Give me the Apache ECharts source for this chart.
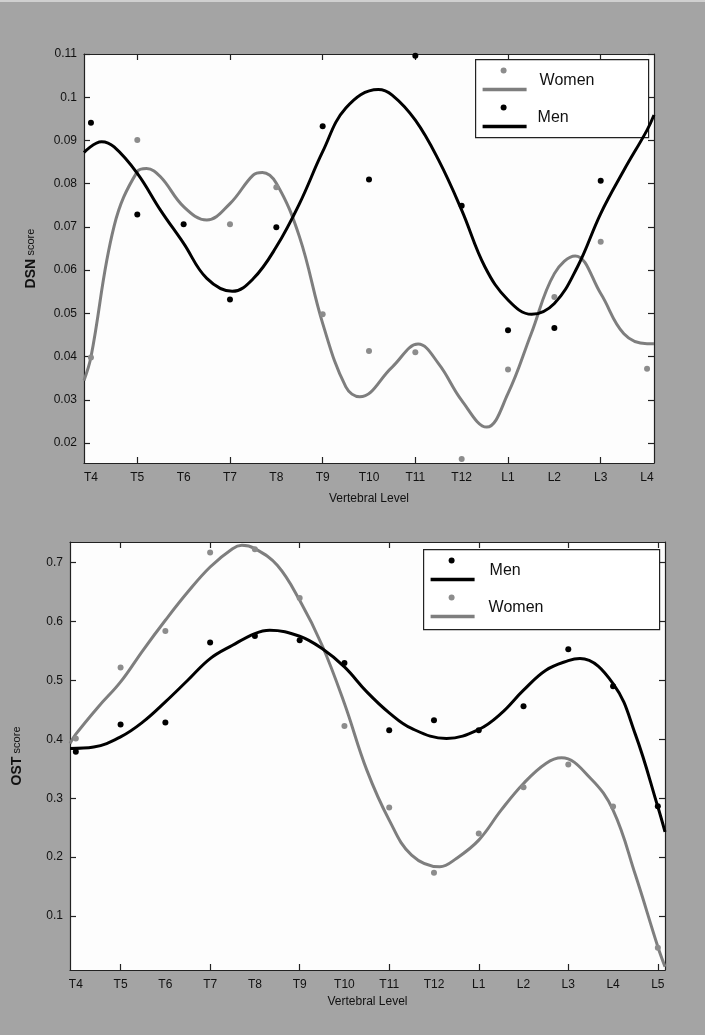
<!DOCTYPE html>
<html>
<head>
<meta charset="utf-8">
<script src="https://cdn.jsdelivr.net/npm/echarts@6/dist/echarts.min.js"></script>
<style>
  html, body { margin: 0; padding: 0; background: #a4a4a4; }
  #chart { width: 705px; height: 1035px; }
</style>
</head>
<body>
<div id="chart"></div>
<script>
// --- top panel: DSN score ---
const dsnLevels = ['T4', 'T5', 'T6', 'T7', 'T8', 'T9', 'T10', 'T11', 'T12', 'L1', 'L2', 'L3', 'L4']
const dsnTicks = [0.02, 0.03, 0.04, 0.05, 0.06, 0.07, 0.08, 0.09, 0.1, 0.11]
const dsnWomenPts = [0.0398, 0.0901, null, 0.0706, 0.0792, 0.0498, 0.0413, 0.0410, 0.0163, 0.0370, 0.0538, 0.0666, 0.0372]
const dsnMenPts = [0.0941, 0.0729, 0.0706, 0.0532, 0.0699, 0.0933, 0.0810, 0.1096, 0.0749, 0.0461, 0.0466, 0.0807, null]
const dsnWomenFitX = [-0.15, 0, 0.5, 1, 1.2, 1.5, 2, 2.5, 3, 3.5, 3.7, 4, 4.5, 5, 5.5, 5.8, 6.5, 7.06, 7.5, 8, 8.54, 9, 9.5, 10, 10.45, 11, 11.5, 12, 12.15]
const dsnWomenFit = [0.0345, 0.0399, 0.0702, 0.0828, 0.0835, 0.0816, 0.0747, 0.0716, 0.0754, 0.0820, 0.0826, 0.0801, 0.0677, 0.0477, 0.0330, 0.0307, 0.0376, 0.0429, 0.0384, 0.0299, 0.0237, 0.0315, 0.0453, 0.0592, 0.0633, 0.0546, 0.0453, 0.0430, 0.0430]
const dsnMenFitX = [-0.15, 0.23, 0.5, 1, 1.5, 2, 2.5, 3.05, 3.5, 4, 4.5, 5, 5.5, 6.2, 6.5, 7, 7.5, 8, 8.5, 9, 9.51, 10, 10.5, 11, 11.5, 12, 12.15]
const dsnMenFit = [0.0872, 0.0897, 0.0885, 0.0824, 0.0739, 0.0662, 0.0581, 0.0551, 0.0580, 0.0654, 0.0754, 0.0874, 0.0975, 0.1018, 0.1005, 0.0947, 0.0855, 0.0739, 0.0608, 0.0531, 0.0498, 0.0523, 0.0608, 0.0731, 0.0831, 0.0924, 0.0959]

// --- bottom panel: OST score ---
const ostLevels = ['T4', 'T5', 'T6', 'T7', 'T8', 'T9', 'T10', 'T11', 'T12', 'L1', 'L2', 'L3', 'L4', 'L5']
const ostTicks = [0.1, 0.2, 0.3, 0.4, 0.5, 0.6, 0.7]
const ostMenPts = [0.379, 0.425, 0.4286, 0.5643, 0.5755, 0.5682, 0.5297, 0.4155, 0.4325, 0.4155, 0.4562, 0.5529, 0.4902, 0.2866]
const ostWomenPts = [0.4014, 0.5219, 0.584, 0.717, 0.7226, 0.64, 0.4228, 0.2844, 0.1735, 0.2403, 0.3188, 0.3573, 0.2861, 0.0463]
const ostMenFitX = [-0.13, 0.4, 1, 1.5, 2, 2.5, 3, 3.5, 4, 4.33, 5, 5.5, 6, 6.5, 7, 7.5, 8.28, 9, 9.5, 10, 10.5, 11, 11.26, 12, 12.5, 13, 13.16]
const ostMenFit = [0.3845, 0.387, 0.4042, 0.4296, 0.4636, 0.5003, 0.537, 0.5597, 0.5796, 0.5852, 0.575, 0.5541, 0.5229, 0.4805, 0.4449, 0.4184, 0.4014, 0.4167, 0.4439, 0.4834, 0.5173, 0.5335, 0.5372, 0.4947, 0.408, 0.2855, 0.243]
const ostWomenFitX = [-0.13, 0, 0.5, 1, 1.5, 2, 2.5, 3, 3.5, 3.71, 4, 4.5, 5, 5.5, 6, 6.5, 7, 7.5, 8.13, 8.5, 9, 9.5, 10, 10.5, 10.85, 11.5, 12, 12.5, 13, 13.16]
const ostWomenFit = [0.393, 0.4087, 0.455, 0.4975, 0.5512, 0.6021, 0.65, 0.6926, 0.7237, 0.7293, 0.7237, 0.6954, 0.636, 0.5597, 0.4608, 0.3477, 0.2629, 0.2035, 0.1836, 0.1978, 0.2289, 0.2798, 0.3251, 0.359, 0.3686, 0.3336, 0.2798, 0.1696, 0.0479, 0.014]

const GRAY = '#7e7e7e'
const DOT_GRAY = '#8c8c8c'
const FONT = 'Liberation Sans, Arial, sans-serif'

const pairs = (xs, ys) => xs.map((x, i) => [x, ys[i]])
const pts = ys => ys.map((y, i) => [i, y]).filter(p => p[1] != null)
const odd = n => new Array(n).fill(0).map((v, i) => i).filter(i => i % 2 === 1)
const all = n => new Array(n).fill(0).map((v, i) => i)

const lineStyle = { color: '#222', width: 1.2 }

function xAxes (grid, min, max, levels, gap) {
  const n = levels.length
  const base = {
    gridIndex: grid, type: 'value', min, max,
    splitLine: { show: false },
    axisLine: { show: true, onZero: false, lineStyle },
    axisTick: { show: true, inside: true, length: 6, customValues: odd(n), lineStyle }
  }
  return [
    Object.assign({}, base, {
      position: 'bottom',
      name: 'Vertebral Level', nameLocation: 'middle', nameGap: gap,
      nameTextStyle: { fontFamily: FONT, fontSize: 12, color: '#111' },
      axisLabel: {
        customValues: all(n), margin: 9,
        fontFamily: FONT, fontSize: 12, color: '#111',
        formatter: v => levels[Math.round(v)]
      }
    }),
    Object.assign({}, base, { position: 'top', axisLabel: { show: false } })
  ]
}

function yAxes (grid, min, max, ticks, name) {
  const base = {
    gridIndex: grid, type: 'value', min, max,
    splitLine: { show: false },
    axisLine: { show: true, onZero: false, lineStyle },
    axisTick: { show: true, inside: true, length: 6, customValues: ticks, lineStyle }
  }
  return [
    Object.assign({}, base, {
      position: 'left',
      name: name, nameLocation: 'middle', nameGap: 46, nameRotate: 90,
      nameTextStyle: {
        fontFamily: FONT, color: '#111',
        rich: {
          a: { fontFamily: FONT, fontSize: 14, fontWeight: 'bold', color: '#111' },
          b: { fontFamily: FONT, fontSize: 11, color: '#111' }
        }
      },
      axisLabel: {
        customValues: ticks, margin: 7,
        fontFamily: FONT, fontSize: 12, color: '#111',
        formatter: v => String(+v.toFixed(2))
      }
    }),
    Object.assign({}, base, { position: 'right', axisLabel: { show: false } })
  ]
}

function fitLine (name, data, color, x, y) {
  return {
    name, type: 'line', xAxisIndex: x, yAxisIndex: y,
    data, smooth: 0.4, showSymbol: false, clip: true,
    lineStyle: { color, width: 3 }, silent: true, z: 3
  }
}

function dots (name, data, color, x, y) {
  return {
    name, type: 'scatter', xAxisIndex: x, yAxisIndex: y,
    data, symbolSize: 6, itemStyle: { color, opacity: 1 }, silent: true, z: 4
  }
}

// legend drawn as a boxed key: dot above a line for each group
function legendBox (left, top, w, h, items) {
  const children = [{
    type: 'rect', shape: { x: 0, y: 0, width: w, height: h },
    style: { fill: '#fff', stroke: '#222', lineWidth: 1.2 }
  }]
  items.forEach((it, i) => {
    const y0 = 11 + i * 37
    children.push({ type: 'circle', shape: { cx: 28, cy: y0, r: 3 }, style: { fill: it.dot } })
    children.push({ type: 'line', shape: { x1: 7, y1: y0 + 19, x2: 51, y2: y0 + 19 }, style: { stroke: it.color, lineWidth: 3.5 } })
    children.push({ type: 'text', x: it.tx, y: y0 + 10, style: { text: it.label, fontFamily: FONT, fontSize: 16, fill: '#111', verticalAlign: 'middle' } })
  })
  return { type: 'group', left, top, children, z: 100 }
}

const chart = echarts.init(document.getElementById('chart'), null, { renderer: 'canvas' })

chart.setOption({
  backgroundColor: '#a4a4a4',
  animation: false,
  grid: [
    { left: 84, top: 54, width: 570, height: 409, show: true, backgroundColor: '#fdfdfd', borderWidth: 0 },
    { left: 70, top: 542, width: 595, height: 428, show: true, backgroundColor: '#fdfdfd', borderWidth: 0 }
  ],
  xAxis: [].concat(xAxes(0, -0.15, 12.15, dsnLevels, 30), xAxes(1, -0.13, 13.16, ostLevels, 26)),
  yAxis: [].concat(
    yAxes(0, 0.0154, 0.11, dsnTicks, '{a|DSN} {b|score}'),
    yAxes(1, 0.0084, 0.735, ostTicks, '{a|OST} {b|score}')
  ),
  series: [
    fitLine('Women', pairs(dsnWomenFitX, dsnWomenFit), GRAY, 0, 0),
    fitLine('Men', pairs(dsnMenFitX, dsnMenFit), '#000', 0, 0),
    dots('Women', pts(dsnWomenPts), DOT_GRAY, 0, 0),
    dots('Men', pts(dsnMenPts), '#000', 0, 0),
    fitLine('Women', pairs(ostWomenFitX, ostWomenFit), GRAY, 2, 2),
    fitLine('Men', pairs(ostMenFitX, ostMenFit), '#000', 2, 2),
    dots('Women', pts(ostWomenPts), DOT_GRAY, 2, 2),
    dots('Men', pts(ostMenPts), '#000', 2, 2)
  ],
  graphic: [
    { type: 'rect', left: 0, top: 0, shape: { width: 705, height: 2 }, style: { fill: '#d0d0d0' } },
    legendBox(475, 59, 173, 78, [
      { label: 'Women', color: GRAY, dot: DOT_GRAY, tx: 64 },
      { label: 'Men', color: '#000', dot: '#000', tx: 62 }
    ]),
    legendBox(423, 549, 236, 80, [
      { label: 'Men', color: '#000', dot: '#000', tx: 66 },
      { label: 'Women', color: GRAY, dot: DOT_GRAY, tx: 65 }
    ])
  ]
})
</script>
</body>
</html>
